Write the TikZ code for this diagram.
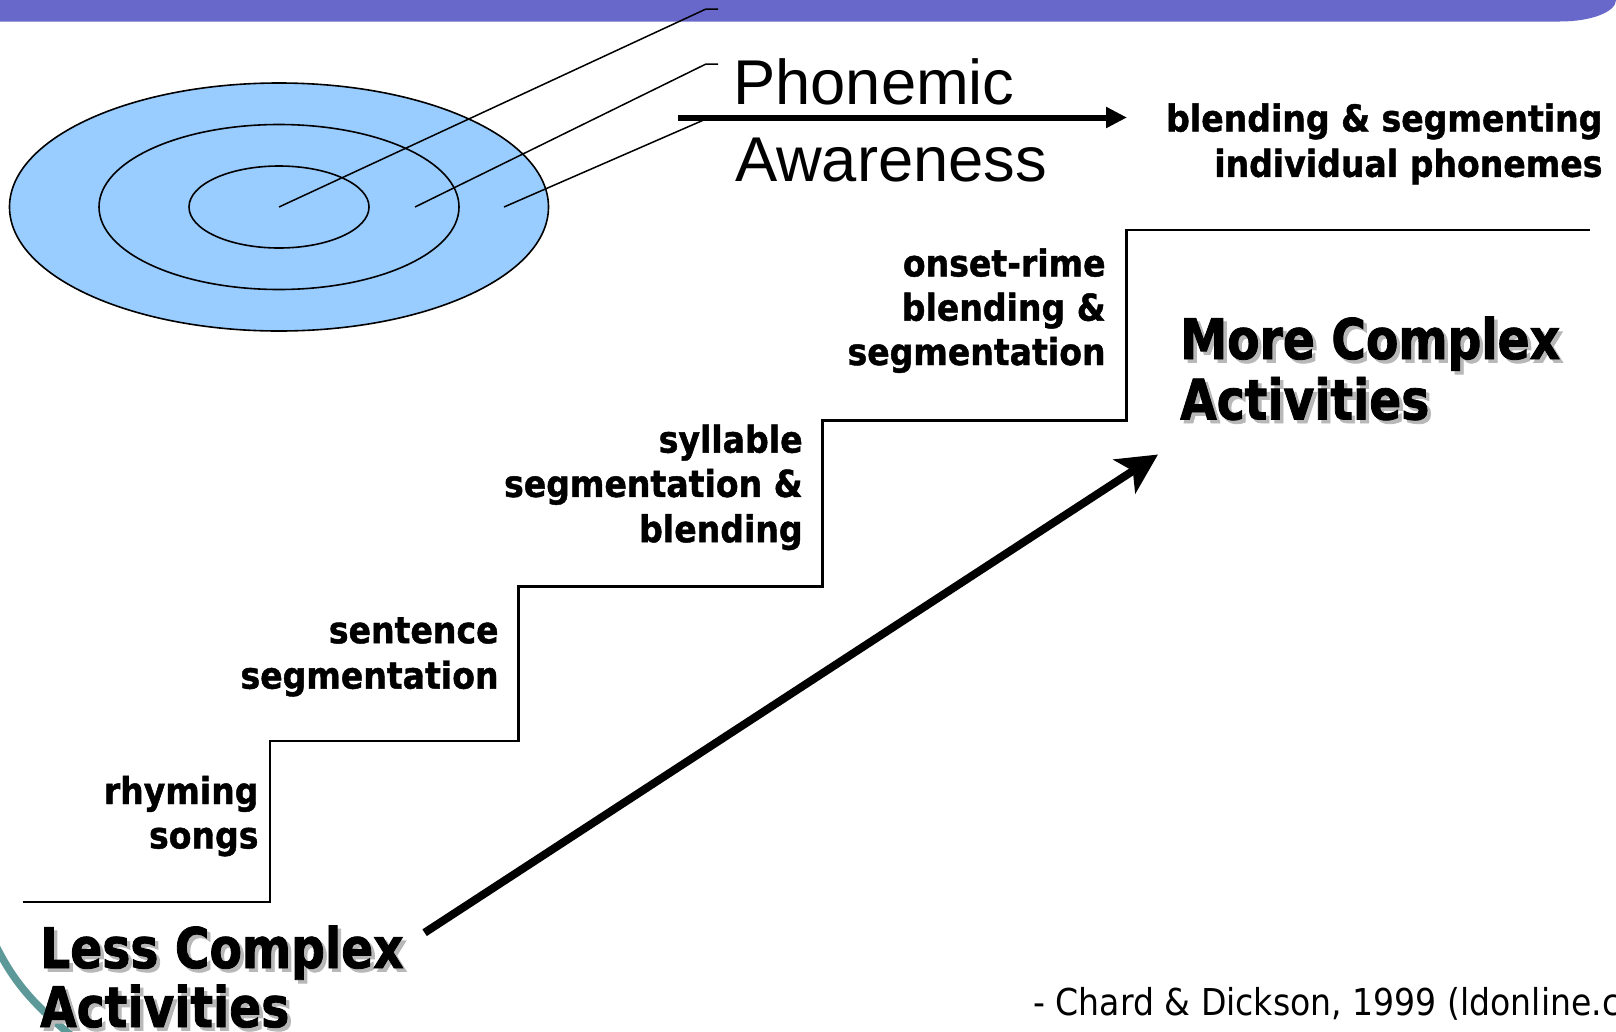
\documentclass[tikz,border=0pt]{standalone}
\usepackage{fontspec}
\usetikzlibrary{arrows.meta}
\setmainfont{Liberation Sans}
\newfontfamily\arialf{Liberation Sans}
\newfontfamily\tahR{DejaVu Sans}[FakeStretch=0.895]
\newfontfamily\tahS{DejaVu Sans}[FakeStretch=0.895,FakeBold=1.2]
\newfontfamily\tahL{DejaVu Sans}[FakeStretch=0.843,FakeBold=1.5]
\definecolor{barpurple}{RGB}{104,104,202}
\definecolor{ringblue}{RGB}{153,204,255}
\definecolor{tealarc}{RGB}{94,153,153}
\tikzset{
  stairlabel/.style={anchor=base east, inner sep=0pt, font=\tahS\bfseries\fontsize{37}{44}\selectfont},
  bigtxt/.style={anchor=base west, inner sep=0pt, font=\tahL\bfseries\fontsize{56}{60}\selectfont},
  shadowtxt/.style={bigtxt, text=black!28},
  phon/.style={anchor=base west, inner sep=0pt, font=\arialf\fontsize{63.3}{70}\selectfont},
  ring/.style={draw=black, line width=1.6pt},
  leader/.style={draw=black, line width=1.5pt},
  stair/.style={draw=black, line width=2.4pt},
}
\begin{document}
\begin{tikzpicture}[x=1pt,y=-1pt]
\useasboundingbox (0,0) rectangle (1616,1031);
\clip (0,0) rectangle (1616,1031);
% top bar
\fill[barpurple] (0,0) -- (1616,0) .. controls (1616,12) and (1591,21.5) .. (1560,21.5) -- (0,21.5) -- cycle;
% teal decoration
\draw[tealarc, line width=7.5pt] (-4,946) .. controls (12,978) and (30,1002) .. (72,1036);
% target ellipses
\coordinate (ctr) at (279,207);
\filldraw[ring, fill=ringblue] (ctr) ellipse [x radius=269.5, y radius=124];
\draw[ring] (ctr) ellipse [x radius=180, y radius=82.5];
\draw[ring] (ctr) ellipse [x radius=90, y radius=41];
% leaders
\coordinate (pin1) at (279,207);
\coordinate (pin2) at (415,207);
\coordinate (pin3) at (504,207);
\coordinate (k1) at (706,9);   \coordinate (e1) at (718,9);
\coordinate (k2) at (706,64);  \coordinate (e2) at (718,64);
\coordinate (k3) at (706,119); \coordinate (e3) at (718,119);
\draw[leader] (pin1) -- (k1) -- (e1);
\draw[leader] (pin2) -- (k2) -- (e2);
\draw[leader] (pin3) -- (k3) -- (e3);
% phonemic awareness
\node[phon] (ph1) at (733,104) {Phonemic};
\node[phon] (ph2) at (735,181.4) {Awareness};
\coordinate (ha0) at (678,117.5);
\coordinate (ha1) at (1127,117.5);
\draw[line width=6pt, -{Triangle[length=21pt,width=20pt]}] (ha0) -- (ha1);
\node[stairlabel] (top1) at (1602.6,131.5) {blending \& segmenting};
\node[stairlabel] (top2) at (1602.6,176.8) {individual phonemes};
% staircase
\coordinate (s0) at (22.7,901.8);
\coordinate (s1) at (270,901.8);
\coordinate (s2) at (270,741);
\coordinate (s3) at (518.4,741);
\coordinate (s4) at (518.4,586.4);
\coordinate (s5) at (822.4,586.4);
\coordinate (s6) at (822.4,420.5);
\coordinate (s7) at (1126.4,420.5);
\coordinate (s8) at (1126.4,229.8);
\coordinate (s9) at (1590.2,229.8);
\draw[stair] (s0) -- (s1) -- (s2) -- (s3) -- (s4) -- (s5) -- (s6) -- (s7) -- (s8) -- (s9);
% stair labels
\node[stairlabel] (r1) at (258.7,804) {rhyming};
\node[stairlabel] (r2) at (258.7,848.4) {songs};
\node[stairlabel] (se1) at (498.8,643.2) {sentence};
\node[stairlabel] (se2) at (498.8,688.6) {segmentation};
\node[stairlabel] (sy1) at (802.8,452.6) {syllable};
\node[stairlabel] (sy2) at (802.8,496.9) {segmentation \&};
\node[stairlabel] (sy3) at (802.8,542.2) {blending};
\node[stairlabel] (on1) at (1105.8,276.4) {onset-rime};
\node[stairlabel] (on2) at (1105.8,320.7) {blending \&};
\node[stairlabel] (on3) at (1105.8,365) {segmentation};
% big diagonal arrow
\coordinate (da0) at (424.6,932.7);
\coordinate (da1) at (1158,454.5);
\draw[line width=8pt, -{Stealth[length=40pt,width=40pt,inset=10pt]}] (da0) -- (da1);
% big labels with shadows
\node[shadowtxt] at (1183.5,362.5) {More Complex};
\node[shadowtxt] at (1183.5,423) {Activities};
\node[bigtxt] (mc1) at (1180,359) {More Complex};
\node[bigtxt] (mc2) at (1180,419.5) {Activities};
\node[shadowtxt] at (43.5,971.5) {Less Complex};
\node[shadowtxt] at (43.5,1030.5) {Activities};
\node[bigtxt] (lc1) at (40,968) {Less Complex};
\node[bigtxt] (lc2) at (40,1027) {Activities};
% citation
\node[anchor=base west, inner sep=0pt, font=\tahR\fontsize{37}{44}\selectfont] (cite) at (1033,1015) {- Chard \& Dickson, 1999 (ldonline.c};
\end{tikzpicture}
\end{document}
